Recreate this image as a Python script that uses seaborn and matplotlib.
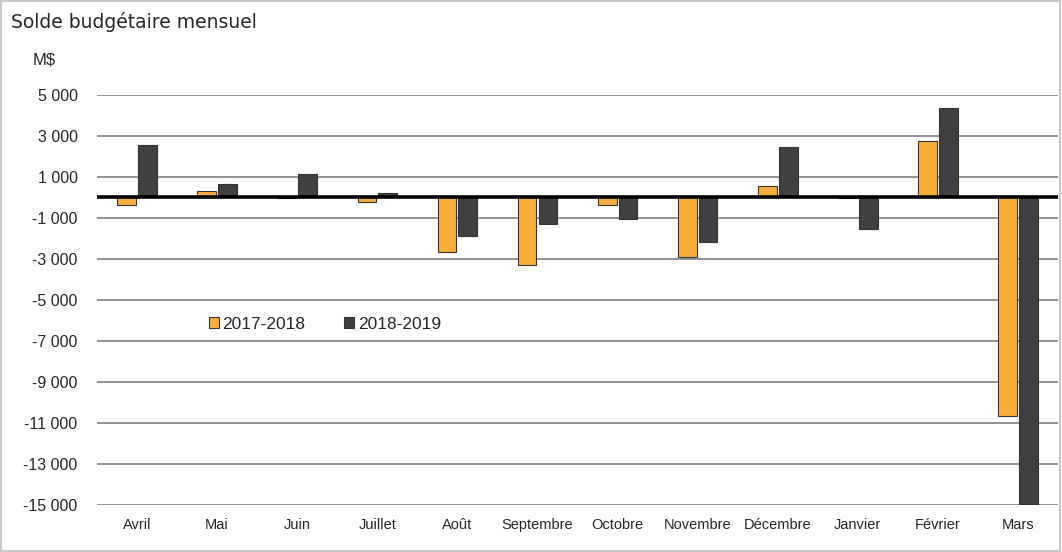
import pandas as pd
import matplotlib
matplotlib.use("Agg")
import matplotlib.pyplot as plt
import seaborn as sns
from matplotlib.patches import Rectangle

# Monthly budget balance (M$)
months = ['Avril', 'Mai', 'Juin', 'Juillet', 'Août', 'Septembre', 'Octobre',
          'Novembre', 'Décembre', 'Janvier', 'Février', 'Mars']
fy_2017 = [-380, 330, -50, -200, -2640, -3290, -370, -2890, 560, -30, 2760, -10660]
fy_2018 = [2550, 670, 1150, 200, -1880, -1310, -1060, -2190, 2450, -1540, 4370, -14950]
series = ['2017-2018', '2018-2019']
yticks = list(range(5000, -15001, -2000))

df = pd.DataFrame({
    'Mois': months * 2,
    'Solde': fy_2017 + fy_2018,
    'Exercice': [series[0]] * len(months) + [series[1]] * len(months),
})

sns.set_style('white')
plt.rcParams['font.family'] = ['Liberation Sans', 'DejaVu Sans']

fig = plt.figure(figsize=(10.62, 5.52), dpi=100)
ax = fig.add_axes([0.0913, 0.0851, 0.905, 0.743])

# gridlines
for v in yticks:
    ax.axhline(v, color='#7f7f7f', lw=1.2, zorder=0)

sns.barplot(data=df, x='Mois', y='Solde', hue='Exercice', order=months,
            hue_order=series, palette=['#F9AE3C', '#404040'],
            width=0.52, gap=0.1, edgecolor='#333333', linewidth=0.8,
            saturation=1, ax=ax, zorder=2)

ax.axhline(0, color='black', lw=2.6, zorder=3)

ax.set_ylim(-15000, 5000)
ax.set_xlim(-0.5, len(months) - 0.5)
ax.set_yticks(yticks)
ax.set_yticklabels([f"{v:,}".replace(',', ' ') for v in yticks])
ax.tick_params(axis='y', length=0, pad=14, labelsize=11.5)
ax.tick_params(axis='x', length=0, pad=9, labelsize=10.5)
for s in ax.spines.values():
    s.set_visible(False)
ax.set_xlabel('')
ax.set_ylabel('')

leg = ax.legend(loc='center left', bbox_to_anchor=(0.1, 0.44), ncol=2,
                frameon=False, fontsize=12.5, handlelength=0.6, handleheight=0.6,
                handletextpad=0.2, columnspacing=2.2)

fig.text(0.031, 0.884, 'M$', fontsize=12)
fig.text(0.010, 0.950, 'Solde budgétaire mensuel', fontsize=13.5,
         family='DejaVu Sans')

fig.patches.append(Rectangle((0.001, 0.002), 0.997, 0.996, transform=fig.transFigure,
                             fill=False, edgecolor='#c8c8c8', lw=1.5))

fig.savefig('out.png', dpi=100)
